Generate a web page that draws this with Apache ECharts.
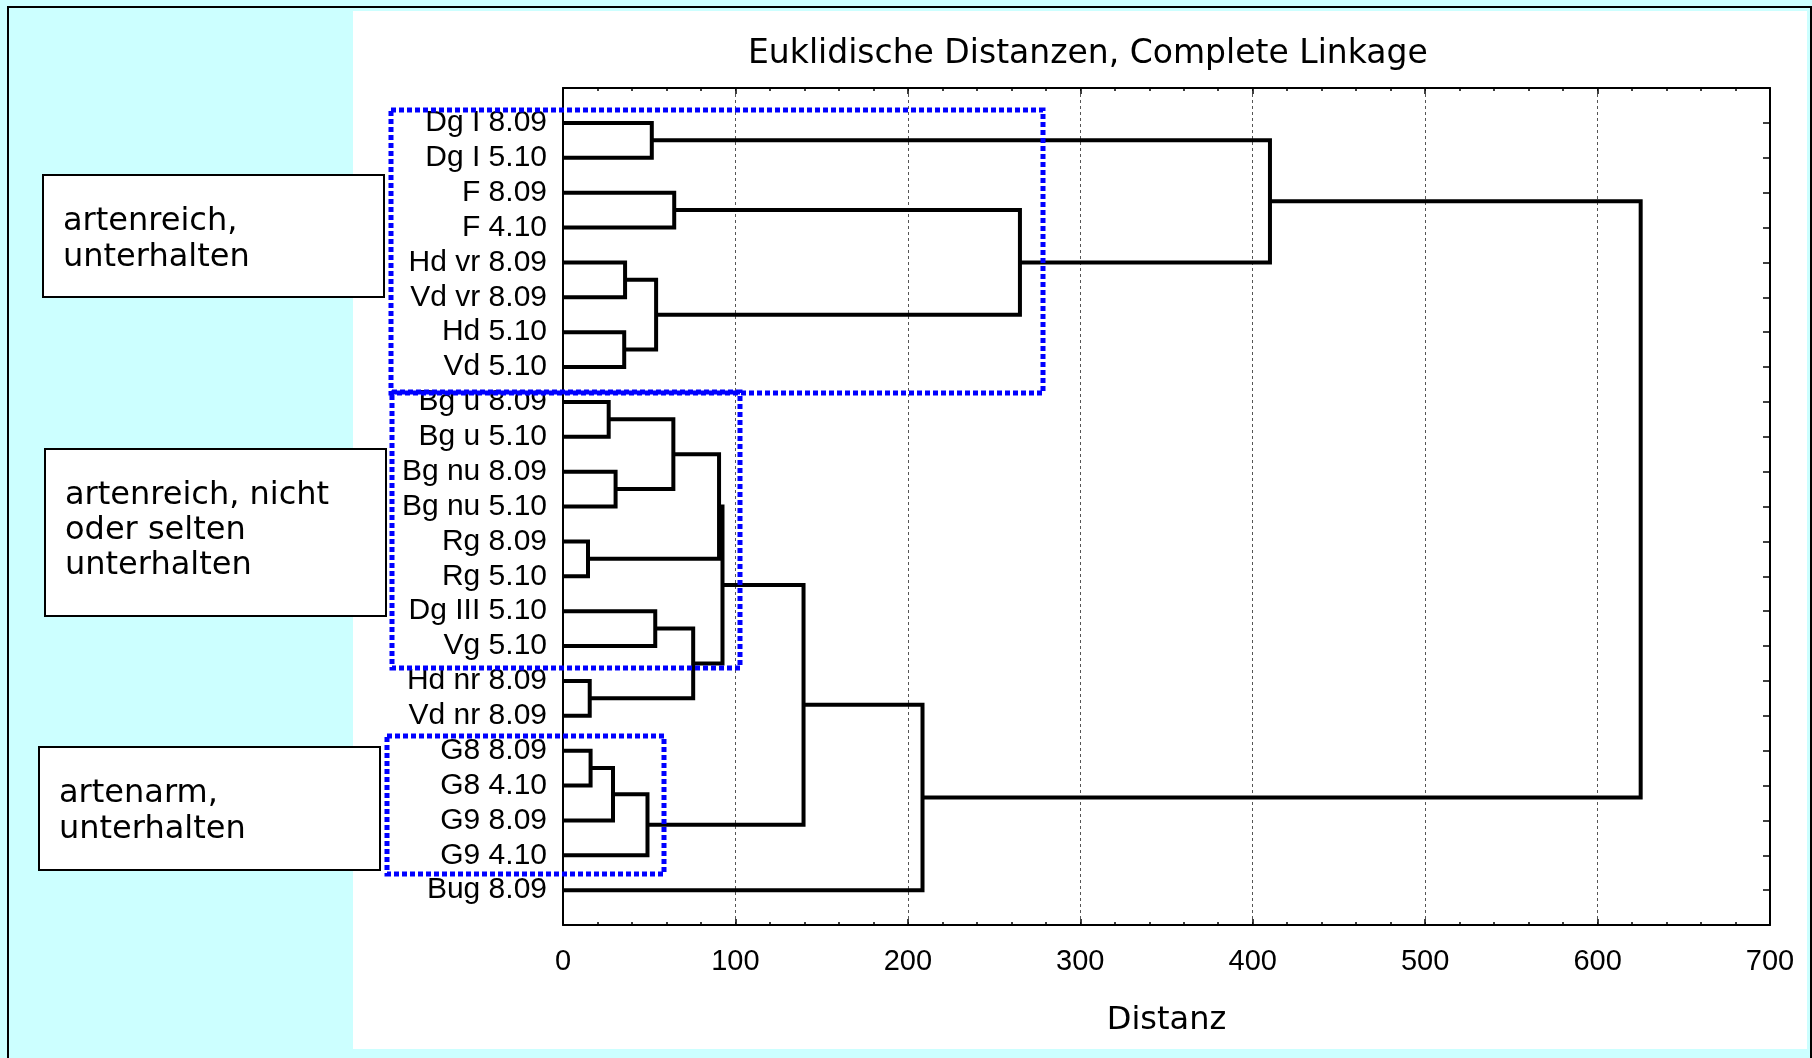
<!DOCTYPE html>
<html>
<head>
<meta charset="utf-8">
<script src="https://cdn.jsdelivr.net/npm/echarts@6/dist/echarts.min.js"></script>
<style>
html,body{margin:0;padding:0;background:#ccffff;}
#main{width:1812px;height:1058px;}
</style>
</head>
<body>
<div id="main"></div>
<script>
// Blätter von oben nach unten
var leaves = ['Dg I 8.09', 'Dg I 5.10', 'F 8.09', 'F 4.10', 'Hd vr 8.09', 'Vd vr 8.09', 'Hd 5.10', 'Vd 5.10',
  'Bg u 8.09', 'Bg u 5.10', 'Bg nu 8.09', 'Bg nu 5.10', 'Rg 8.09', 'Rg 5.10', 'Dg III 5.10', 'Vg 5.10',
  'Hd nr 8.09', 'Vd nr 8.09', 'G8 8.09', 'G8 4.10', 'G9 8.09', 'G9 4.10', 'Bug 8.09'];
// Verschmelzungsschritte: Index < 23 = Blatt, sonst Cluster 23 + Schritt
var mergeLeft  = [0, 2, 4, 6, 25, 24, 23, 8, 10, 30, 12, 32, 14, 16, 35, 34, 18, 39, 40, 38, 42, 29];
var mergeRight = [1, 3, 5, 7, 26, 27, 28, 9, 11, 31, 13, 33, 15, 17, 36, 37, 19, 20, 21, 41, 22, 43];
var mergeHeight = [51.5, 64.5, 36, 35.5, 54, 265, 410, 26.5, 30.5, 64, 14.5, 90.5, 53.5, 15.5, 75.5, 92.5, 16, 29, 49, 139.5, 208.5, 625];
var distMin = 0, distMax = 700, distStep = 100;
var titleText = 'Euklidische Distanzen, Complete Linkage';
var groupTexts = ['artenreich,\nunterhalten', 'artenreich, nicht\noder selten\nunterhalten', 'artenarm,\nunterhalten'];

// Positionen der Knoten ausrechnen
var posX = [], posY = [];
for (var i = 0; i < leaves.length; i++) { posX.push(0); posY.push(i + 1); }
var links = [];
for (var k = 0; k < mergeHeight.length; k++) {
  var a = mergeLeft[k], b = mergeRight[k], h = mergeHeight[k];
  links.push([posX[a], posY[a], posX[b], posY[b], h]);
  posX.push(h);
  posY.push((posY[a] + posY[b]) / 2);
}

function renderLink(params, api) {
  var p1 = api.coord([api.value(0), api.value(1)]);
  var p2 = api.coord([api.value(4), api.value(1)]);
  var p3 = api.coord([api.value(4), api.value(3)]);
  var p4 = api.coord([api.value(2), api.value(3)]);
  return {
    type: 'polyline',
    shape: { points: [p1, p2, p3, p4] },
    style: { stroke: '#000', lineWidth: 4, fill: null, lineJoin: 'miter' }
  };
}

var labelFont = 'Liberation Sans, Arial, sans-serif';
var bigFont = '"DejaVu Sans", sans-serif';

var boxStyle = { fill: '#fff', stroke: '#000', lineWidth: 2 };
var dotStyle = { fill: null, stroke: '#0000ff', lineWidth: 5, lineDash: [5, 3] };

var chart = echarts.init(document.getElementById('main'));
var option = {
  backgroundColor: '#ccffff',
  animation: false,
  title: {
    text: titleText,
    left: 748,
    top: 38,
    padding: 0,
    textStyle: { fontFamily: bigFont, fontSize: 33, fontWeight: 'normal', color: '#000' }
  },
  grid: { left: 563, top: 88, right: 42, bottom: 133, outerBoundsMode: 'none' },
  xAxis: [{
    type: 'value', position: 'bottom', min: distMin, max: distMax, interval: distStep,
    name: 'Distanz', nameLocation: 'middle', nameGap: 80,
    nameTextStyle: { fontFamily: bigFont, fontSize: 32, color: '#000' },
    axisLine: { show: true, onZero: false, lineStyle: { color: '#000', width: 2 } },
    axisTick: { show: true, inside: true, length: 6, lineStyle: { color: '#000', width: 1.5 } },
    minorTick: { show: true, splitNumber: 5, length: 3, lineStyle: { color: '#000', width: 1.5 } },
    axisLabel: { margin: 22, fontFamily: labelFont, fontSize: 29, color: '#000' },
    splitLine: { show: true, lineStyle: { color: '#555', width: 1, type: [3, 3] } }
  }, {
    type: 'value', position: 'top', min: distMin, max: distMax, interval: distStep,
    axisLine: { show: true, onZero: false, lineStyle: { color: '#000', width: 2 } },
    axisTick: { show: true, inside: true, length: 6, lineStyle: { color: '#000', width: 1.5 } },
    minorTick: { show: true, splitNumber: 5, length: 3, lineStyle: { color: '#000', width: 1.5 } },
    axisLabel: { show: false },
    splitLine: { show: false }
  }],
  yAxis: [{
    type: 'value', position: 'left', inverse: true, min: 0, max: leaves.length + 1, interval: 1,
    axisLine: { show: true, onZero: false, lineStyle: { color: '#000', width: 2 } },
    axisTick: { show: false },
    splitLine: { show: false },
    axisLabel: {
      margin: 16, fontFamily: labelFont, fontSize: 30, color: '#000',
      formatter: function (v) { return leaves[v - 1] || ''; }
    }
  }, {
    type: 'value', position: 'right', inverse: true, min: 0, max: leaves.length + 1, interval: 1,
    axisLine: { show: true, onZero: false, lineStyle: { color: '#000', width: 2 } },
    axisTick: { show: true, inside: true, length: 7, lineStyle: { color: '#000', width: 1.5 } },
    splitLine: { show: false },
    axisLabel: { show: false }
  }],
  series: [{
    type: 'custom',
    xAxisIndex: 0,
    yAxisIndex: 0,
    renderItem: renderLink,
    encode: { x: [0, 2, 4], y: [1, 3] },
    data: links,
    z: 5
  }],
  graphic: [
    { type: 'rect', z: -100, shape: { x: 8, y: 7, width: 1803, height: 1100 }, style: { fill: null, stroke: '#000', lineWidth: 2 } },
    { type: 'rect', z: -99, shape: { x: 353, y: 11, width: 1454, height: 1038 }, style: { fill: '#fff' } },
    // Gruppenkästen links
    { type: 'rect', z: 100, shape: { x: 43, y: 175, width: 341, height: 122 }, style: boxStyle },
    { type: 'rect', z: 100, shape: { x: 45, y: 449, width: 341, height: 167 }, style: boxStyle },
    { type: 'rect', z: 100, shape: { x: 39, y: 747, width: 341, height: 123 }, style: boxStyle },
    { type: 'text', z: 101, x: 63, y: 204, style: { text: groupTexts[0], font: '32px ' + bigFont, lineHeight: 36, fill: '#000', textVerticalAlign: 'top' } },
    { type: 'text', z: 101, x: 65, y: 478, style: { text: groupTexts[1], font: '32px ' + bigFont, lineHeight: 35, fill: '#000', textVerticalAlign: 'top' } },
    { type: 'text', z: 101, x: 59, y: 776, style: { text: groupTexts[2], font: '32px ' + bigFont, lineHeight: 36, fill: '#000', textVerticalAlign: 'top' } },
    // blaue gepunktete Rahmen
    { type: 'rect', z: 110, shape: { x: 391, y: 110, width: 652, height: 283 }, style: dotStyle },
    { type: 'rect', z: 110, shape: { x: 392, y: 392, width: 348, height: 276 }, style: dotStyle },
    { type: 'rect', z: 110, shape: { x: 387, y: 736, width: 277, height: 138 }, style: dotStyle }
  ]
};
chart.setOption(option);
</script>
</body>
</html>
